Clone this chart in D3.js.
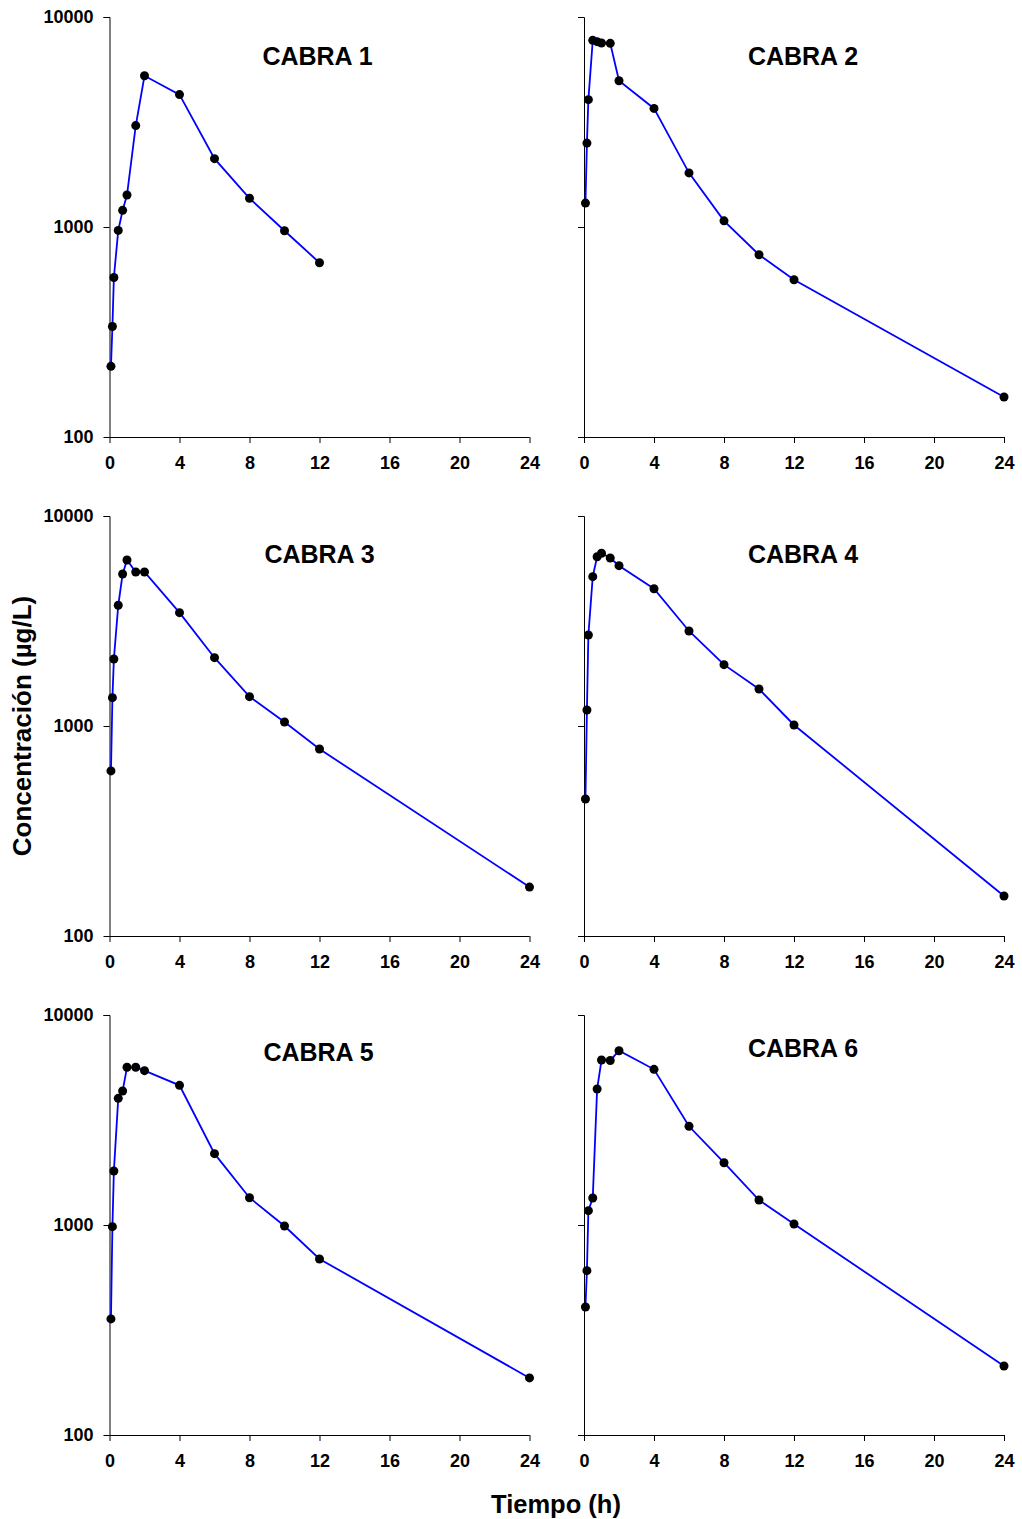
<!DOCTYPE html>
<html>
<head>
<meta charset="utf-8">
<script src="https://cdn.jsdelivr.net/npm/d3@7"></script>
<style>
  body { margin: 0; background: #fff; }
  svg { display: block; font-family: "Liberation Sans", Arial, sans-serif; font-weight: bold; }
</style>
</head>
<body>
<svg id="chart" width="1022" height="1519"></svg>
<script>
// sampling times (h)
const times = [0.083, 0.167, 0.25, 0.5, 0.75, 1, 1.5, 2, 4, 6, 8, 10, 12, 24];

// concentrations (µg/L) per goat
const cabra1 = [217, 336, 575, 963, 1200, 1420, 3040, 5250, 4270, 2115, 1370, 960, 676];
const cabra2 = [1300, 2510, 4040, 7740, 7630, 7520, 7490, 4970, 3670, 1810, 1070, 738, 561, 155];
const cabra3 = [611, 1364, 2084, 3757, 5293, 6170, 5412, 5412, 3465, 2115, 1379, 1045, 777, 171];
const cabra4 = [449, 1192, 2713, 5141, 6400, 6645, 6310, 5800, 4506, 2834, 1959, 1500, 1011, 155];
const cabra5 = [357, 982, 1808, 4010, 4346, 5636, 5636, 5430, 4625, 2186, 1349, 989, 689, 187];
const cabra6 = [407, 606, 1170, 1344, 4441, 6105, 6075, 6761, 5512, 2951, 1980, 1315, 1011, 213];

const titles = ['CABRA 1', 'CABRA 2', 'CABRA 3', 'CABRA 4', 'CABRA 5', 'CABRA 6'];
const series = [cabra1, cabra2, cabra3, cabra4, cabra5, cabra6];
const xTicks = [0, 4, 8, 12, 16, 20, 24];
const yTicks = [100, 1000, 10000];

// layout
const colX = [109.5, 584];
const rowY = [17, 516, 1015];
const panelW = 420, panelH = 420;
const titleOffset = [
  { dx: 208, dy: 48 }, { dx: 219, dy: 48 },
  { dx: 210, dy: 47 }, { dx: 219, dy: 47 },
  { dx: 209, dy: 46 }, { dx: 219, dy: 42 }
];

const svg = d3.select('#chart');

const x = d3.scaleLinear().domain([0, 24]).range([0, panelW]);
const y = d3.scaleLog().domain([100, 10000]).range([panelH, 0]);

const line = d3.line()
  .x(d => x(d.t))
  .y(d => y(d.c));

series.forEach((vals, i) => {
  const col = i % 2, row = Math.floor(i / 2);
  const g = svg.append('g')
    .attr('transform', `translate(${colX[col]},${rowY[row]})`);

  const data = vals.map((c, j) => ({ t: times[j], c }));

  // y axis
  const yAxis = d3.axisLeft(y)
    .tickValues(yTicks)
    .tickSize(6)
    .tickPadding(10)
    .tickFormat(col === 0 ? d3.format('d') : () => '');
  const ya = g.append('g').call(yAxis);
  ya.select('.domain').attr('d', `M-6,0.5H0.5V${panelH}`);

  // x axis
  const xAxis = d3.axisBottom(x)
    .tickValues(xTicks)
    .tickSize(6)
    .tickPadding(13)
    .tickFormat(d3.format('d'));
  const xa = g.append('g')
    .attr('transform', `translate(0,${panelH})`)
    .call(xAxis);
  xa.select('.domain').attr('d', `M0,0.5H${panelW}`);

  [ya, xa].forEach(a => {
    a.selectAll('path, line').attr('stroke', '#000').attr('stroke-width', 1);
    a.selectAll('text')
      .attr('fill', '#000')
      .style('font-size', '18px')
      .style('font-weight', 'bold')
      .style('font-family', '"Liberation Sans", Arial, sans-serif');
  });

  g.append('path')
    .datum(data)
    .attr('d', line)
    .attr('fill', 'none')
    .attr('stroke', '#0000ff')
    .attr('stroke-width', 1.8);

  g.selectAll('circle')
    .data(data)
    .enter()
    .append('circle')
    .attr('cx', d => x(d.t))
    .attr('cy', d => y(d.c))
    .attr('r', 4.5)
    .attr('fill', '#000');

  g.append('text')
    .attr('x', titleOffset[i].dx)
    .attr('y', titleOffset[i].dy)
    .attr('text-anchor', 'middle')
    .style('font-size', '25px')
    .text(titles[i]);
});

// axis titles
svg.append('text')
  .attr('x', 556)
  .attr('y', 1513)
  .attr('text-anchor', 'middle')
  .style('font-size', '25.5px')
  .text('Tiempo (h)');

svg.append('text')
  .attr('transform', 'translate(31,726) rotate(-90)')
  .attr('text-anchor', 'middle')
  .style('font-size', '26px')
  .text('Concentración (µg/L)');
</script>
</body>
</html>
